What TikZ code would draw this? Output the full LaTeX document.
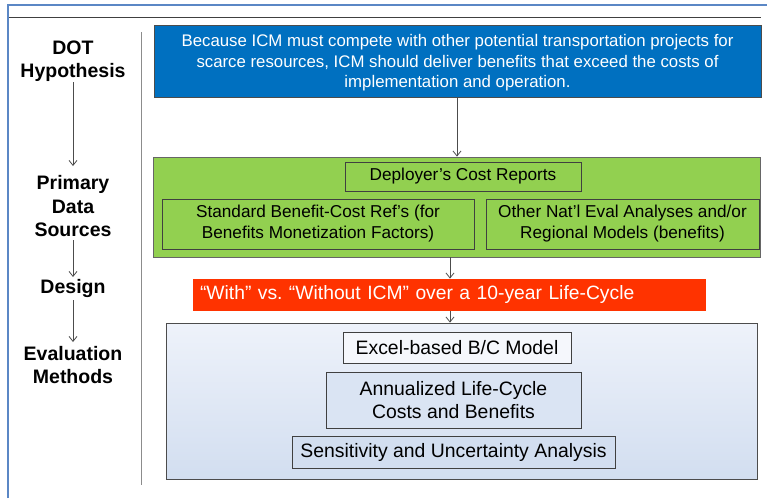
\documentclass[tikz,border=0pt]{standalone}
\usepackage{fontspec}
\setmainfont{Liberation Sans}
\usetikzlibrary{arrows.meta}
\frenchspacing
\definecolor{frameblue}{HTML}{5B87C5}
\definecolor{boxblue}{HTML}{0070C0}
\definecolor{boxgreen}{HTML}{92D050}
\definecolor{boxred}{HTML}{FF3300}
\definecolor{evaltop}{HTML}{EEF2FA}
\definecolor{evalbot}{HTML}{D2DEF0}
\begin{document}
\begin{tikzpicture}[x=1pt,y=-1pt,
  box/.style={draw=black!75, line width=0.8pt, inner sep=0pt, align=center},
  lbl/.style={font=\bfseries\fontsize{19.5}{22}\selectfont, inner sep=0pt, anchor=center},
  arr/.style={draw=black!70, line width=0.8pt, -{Straight Barb[length=5pt,width=8pt]}}]
\useasboundingbox (0,0) rectangle (767,498);
\fill[white] (0,0) rectangle (767,498);
% frame
\draw[frameblue, line width=2pt] (8,498) -- (8,5) -- (767,5);
\draw[black!75, line width=0.8pt] (9,17) -- (761,17);
\draw[black!45, line width=1pt] (141,32) -- (141,485);
% left labels
\node[lbl] (dot) at (73,48) {DOT};
\node[lbl] (hyp) at (73,72) {Hypothesis};
\node[lbl] (prim) at (73,184) {Primary};
\node[lbl] (data) at (73,207) {Data};
\node[lbl] (src) at (73,230) {Sources};
\node[lbl] (des) at (73,288) {Design};
\node[lbl] (ev) at (73,354) {Evaluation};
\node[lbl] (meth) at (73,377) {Methods};
\coordinate (h0) at (73,82);
\coordinate (h0e) at (73,166);
\draw[arr] (h0) -- (h0e);
\coordinate (h1) at (73,240);
\coordinate (h2) at (73,277);
\draw[arr] (h1) -- (h2);
\coordinate (h3) at (73,300);
\coordinate (h4) at (73,342);
\draw[arr] (h3) -- (h4);
% blue box
\node[box, draw=black!70, fill=boxblue, text=white, minimum width=607, minimum height=72,
  font=\fontsize{16.8}{20.5}\selectfont] (hypbox) at (457.5,61) {};
\node[inner sep=0pt, align=center, text=white, font=\fontsize{16.8}{20.5}\selectfont] (hyptext) at (457.5,63)
  {Because ICM must compete with other potential transportation projects for\\
   scarce resources, ICM should deliver benefits that exceed the costs of\\
   implementation and operation.};
% green box
\node[box, draw=black!60, fill=boxgreen, minimum width=607, minimum height=100] (green) at (456.5,207) {};
\node[box, minimum width=236, minimum height=29, font=\fontsize{17.2}{21}\selectfont] (dep) at (463,176.5) {Deployer’s Cost Reports};
\node[box, minimum width=312, minimum height=50, font=\fontsize{17.2}{21}\selectfont] (std) at (318,224)
  {Standard Benefit-Cost Ref’s (for\\Benefits Monetization Factors)};
\node[box, minimum width=273, minimum height=50, font=\fontsize{17.2}{21}\selectfont] (oth) at (622.5,224)
  {Other Nat’l Eval Analyses and/or\\Regional Models (benefits)};
% red box
\node[box, draw=none, fill=boxred, text=white, inner xsep=7pt, text width=499, align=left, minimum height=32,
  font=\fontsize{19.3}{22}\selectfont] (red) at (449.5,295)
  {“With” vs. “Without ICM” over a 10-year Life-Cycle};
% evaluation box
\node[box, draw=black!70, top color=evaltop, bottom color=evalbot, minimum width=591, minimum height=156] (eval) at (461.5,401) {};
\node[box, fill=evaltop!60!white, minimum width=228, minimum height=31, font=\fontsize{19.4}{22}\selectfont] (excel) at (457,347.5) {Excel-based B/C Model};
\node[box, fill=evaltop!30!evalbot, minimum width=255, minimum height=56, font=\fontsize{19.4}{23}\selectfont] (ann) at (453.5,400)
  {Annualized Life-Cycle\\Costs and Benefits};
\node[box, fill=evalbot, minimum width=323, minimum height=32, font=\fontsize{19.4}{22}\selectfont] (sens) at (453.5,452) {Sensitivity and Uncertainty Analysis};
% connectors
\draw[arr] (hypbox.south -| 457,0) -- (green.north -| 457,0);
\draw[arr] (green.south -| 450,0) -- (red.north -| 450,0);
\draw[arr] (red.south -| 450,0) -- (eval.north -| 450,0);
\end{tikzpicture}
\end{document}
